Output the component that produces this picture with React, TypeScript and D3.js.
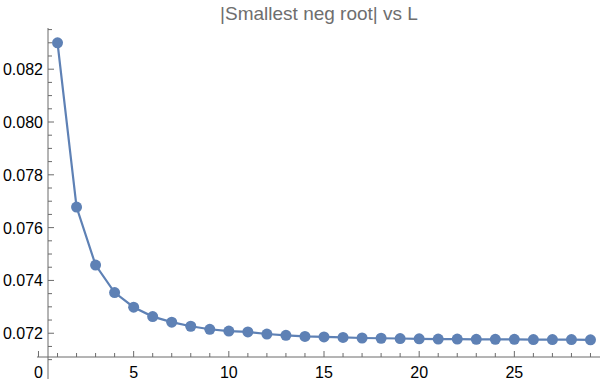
import React from 'react';
import * as d3 from 'd3';

// |smallest negative root| for each L
const lValues = [
  1, 2, 3, 4, 5, 6, 7, 8, 9, 10, 11, 12, 13, 14, 15, 16, 17, 18, 19, 20,
  21, 22, 23, 24, 25, 26, 27, 28, 29,
];
const rootValues = [
  0.0830, 0.07678, 0.07458, 0.07354, 0.072985, 0.07263, 0.07242, 0.072265,
  0.07215, 0.07208, 0.07205, 0.07197, 0.07192, 0.07188, 0.07186, 0.07184,
  0.07182, 0.07181, 0.0718, 0.07179, 0.07178, 0.07178, 0.07177, 0.07177,
  0.07177, 0.07176, 0.07176, 0.07176, 0.07175,
];
const xMajorTicks = [0, 5, 10, 15, 20, 25];
const yMajorTicks = [0.072, 0.074, 0.076, 0.078, 0.08, 0.082];

const W = 600;
const H = 381;
const blue = '#5e81b5';
const axisColor = '#6b6b6b';
const font = '"Liberation Sans", Arial, sans-serif';

export default function App() {
  const x = d3.scaleLinear().domain([0.5, 29.5]).range([48, 600]);
  const y = d3.scaleLinear().domain([0.0711, 0.08356]).range([357, 28]);

  const xMinor = d3.range(0, 30).filter(v => v % 5 !== 0);
  const yMinor = d3.range(0.0710, 0.0836, 0.0005).filter(
    v => !yMajorTicks.some(t => Math.abs(t - v) < 1e-7)
  );

  const pts = lValues.map((l, i) => [l, rootValues[i]] as [number, number]);
  const line = d3.line<[number, number]>().x(d => x(d[0])).y(d => y(d[1]));

  const x0 = x(0.5);
  const y0 = y(0.0711);

  return (
    <svg width={W} height={H} style={{ position: 'absolute', left: 0, top: 0 }}>
      <rect width={W} height={H} fill="#fff" />
      <text x={319} y={20} textAnchor="middle" fontFamily={font} fontSize={19} fill="#6e6e6e">
        |Smallest neg root| vs L
      </text>

      {/* axes */}
      <line x1={x(0) - 1.5} x2={W} y1={y0} y2={y0} stroke={axisColor} strokeWidth={1} />
      <line x1={x0} x2={x0} y1={28} y2={H - 2} stroke={axisColor} strokeWidth={1} />

      {xMajorTicks.map(t => (
        <g key={'xt' + t}>
          <line x1={x(t)} x2={x(t)} y1={y0} y2={y0 - 6} stroke={axisColor} />
          <text x={x(t)} y={378} textAnchor="middle" fontFamily={font} fontSize={16} fill="#000">
            {t}
          </text>
        </g>
      ))}
      {xMinor.map(t => (
        <line key={'xm' + t} x1={x(t)} x2={x(t)} y1={y0} y2={y0 - 4} stroke={axisColor} />
      ))}

      {yMajorTicks.map(t => (
        <g key={'yt' + t}>
          <line x1={x0} x2={x0 + 6} y1={y(t)} y2={y(t)} stroke={axisColor} />
          <text x={43} y={y(t) + 6} textAnchor="end" fontFamily={font} fontSize={16} fill="#000">
            {t.toFixed(3)}
          </text>
        </g>
      ))}
      {yMinor.map(t => (
        <line key={'ym' + t} x1={x0} x2={x0 + 4} y1={y(t)} y2={y(t)} stroke={axisColor} />
      ))}

      <path d={line(pts) || ''} fill="none" stroke={blue} strokeWidth={2.2} />
      {pts.map(d => (
        <circle key={d[0]} cx={x(d[0])} cy={y(d[1])} r={5.5} fill={blue} />
      ))}
    </svg>
  );
}
